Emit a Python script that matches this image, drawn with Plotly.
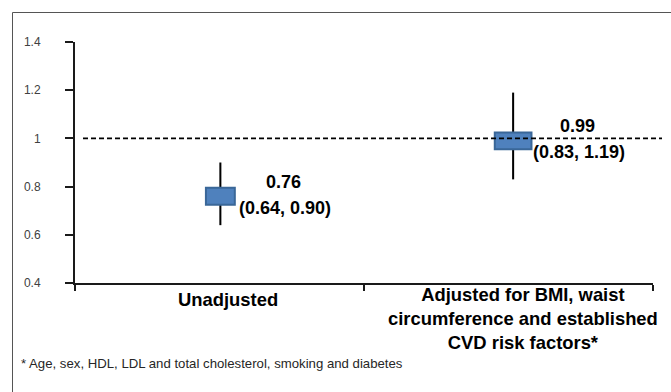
import plotly.graph_objects as go

# ---- data ----
categories = ["Unadjusted",
              "Adjusted for BMI, waist<br>circumference and established<br>CVD risk factors*"]
estimates = [0.76, 0.99]
lower_ci = [0.64, 0.83]
upper_ci = [0.90, 1.19]
y_tick_vals = [0.4, 0.6, 0.8, 1.0, 1.2, 1.4]
y_tick_text = ["0.4", "0.6", "0.8", "1", "1.2", "1.4"]
reference_value = 1.0
footnote = "* Age, sex, HDL, LDL and total cholesterol, smoking and diabetes"

# ---- layout geometry (pixels) ----
W, H = 671, 392
ML, MR, MT, MB = 75, 18, 42, 109
PW, PH = W - ML - MR, H - MT - MB


def px_x(p):
    return (p - ML) / PW


def px_y(p):
    return (H - MB - p) / PH


FONT = "Liberation Sans, Arial, sans-serif"
box_h = 0.07                 # box height in data units
box_w = [0.10, 0.127]        # box widths in category units
whisker_w = 0.007
mark_shift = [0.003, 0.016]  # small horizontal nudge of marks (category units)

fig = go.Figure()

# whiskers (CI)
fig.add_trace(go.Bar(
    x=categories,
    base=lower_ci,
    y=[u - l for u, l in zip(upper_ci, lower_ci)],
    width=[whisker_w] * len(categories),
    offset=[-whisker_w / 2 + s for s in mark_shift],
    marker=dict(color="#000000", line=dict(width=0)),
    hoverinfo="skip",
))

# boxes (point estimates)
fig.add_trace(go.Bar(
    x=categories,
    base=[e - box_h / 2 for e in estimates],
    y=[box_h] * len(categories),
    width=box_w,
    offset=[-w / 2 + s for w, s in zip(box_w, mark_shift)],
    marker=dict(color="#4F81BD", line=dict(color="#3A6798", width=2)),
    hoverinfo="skip",
))

# value labels
for i, (e, lo, hi) in enumerate(zip(estimates, lower_ci, upper_ci)):
    xs = [64, 69][i]
    ys_top = [14, 15][i]
    ys_bot = [-12, -11][i]
    fig.add_annotation(x=categories[i], y=e, xref="x", yref="y",
                       text=f"<b>{e:.2f}</b>", showarrow=False,
                       xshift=xs, yshift=ys_top,
                       font=dict(family=FONT, size=18, color="#000000"))
    fig.add_annotation(x=categories[i], y=e, xref="x", yref="y",
                       text=f"<b>({lo:.2f}, {hi:.2f})</b>", showarrow=False,
                       xshift=xs + 1, yshift=ys_bot,
                       font=dict(family=FONT, size=18, color="#000000"))

# category labels (drawn as annotations for exact placement)
cat_xshift = [8, 14]
cat_ymid = [299, 318]
for i, c in enumerate(categories):
    fig.add_annotation(x=categories[i], y=px_y(cat_ymid[i]), xref="x", yref="paper",
                       text=f"<b>{c}</b>", showarrow=False, align="center",
                       xanchor="center", yanchor="middle", xshift=cat_xshift[i],
                       font=dict(family=FONT, size=18.4, color="#000000"))

# footnote
fig.add_annotation(x=px_x(19), y=px_y(363), xref="paper", yref="paper",
                   text=footnote, showarrow=False, xanchor="left", yanchor="middle",
                   font=dict(family=FONT, size=13.2, color="#262626"))

# reference dashed line
fig.add_shape(type="line", xref="paper", yref="y",
              x0=px_x(83), x1=px_x(662), y0=reference_value, y1=reference_value,
              line=dict(color="#000000", width=1.75, dash="5px,3px"))

# outer border
fig.add_shape(type="rect", xref="paper", yref="paper",
              x0=px_x(12.5), x1=px_x(685), y0=px_y(12.5), y1=px_y(405),
              line=dict(color="#555555", width=1), layer="below")

fig.update_layout(
    width=W, height=H,
    margin=dict(l=ML, r=MR, t=MT, b=MB, autoexpand=False),
    paper_bgcolor="white", plot_bgcolor="white",
    barmode="overlay",
    showlegend=False,
    xaxis=dict(type="category", range=[-0.5, 1.5], tickson="boundaries",
               categoryorder="array", categoryarray=categories,
               showline=True, linecolor="#1a1a1a", linewidth=2,
               ticks="outside", ticklen=6, tickwidth=2, tickcolor="#1a1a1a",
               showgrid=False, zeroline=False, showticklabels=False),
    yaxis=dict(range=[0.4, 1.4], tickvals=y_tick_vals, ticktext=y_tick_text,
               showline=True, linecolor="#1a1a1a", linewidth=2,
               ticks="outside", ticklen=8, tickwidth=2, tickcolor="#1a1a1a",
               showgrid=False, zeroline=False,
               tickfont=dict(family=FONT, size=12, color="#404040"),
               ticklabelstandoff=22),
)

fig.write_html("out.html", config={"displayModeBar": False},
               post_script="document.body.style.margin='0';document.body.style.overflow='hidden';")
